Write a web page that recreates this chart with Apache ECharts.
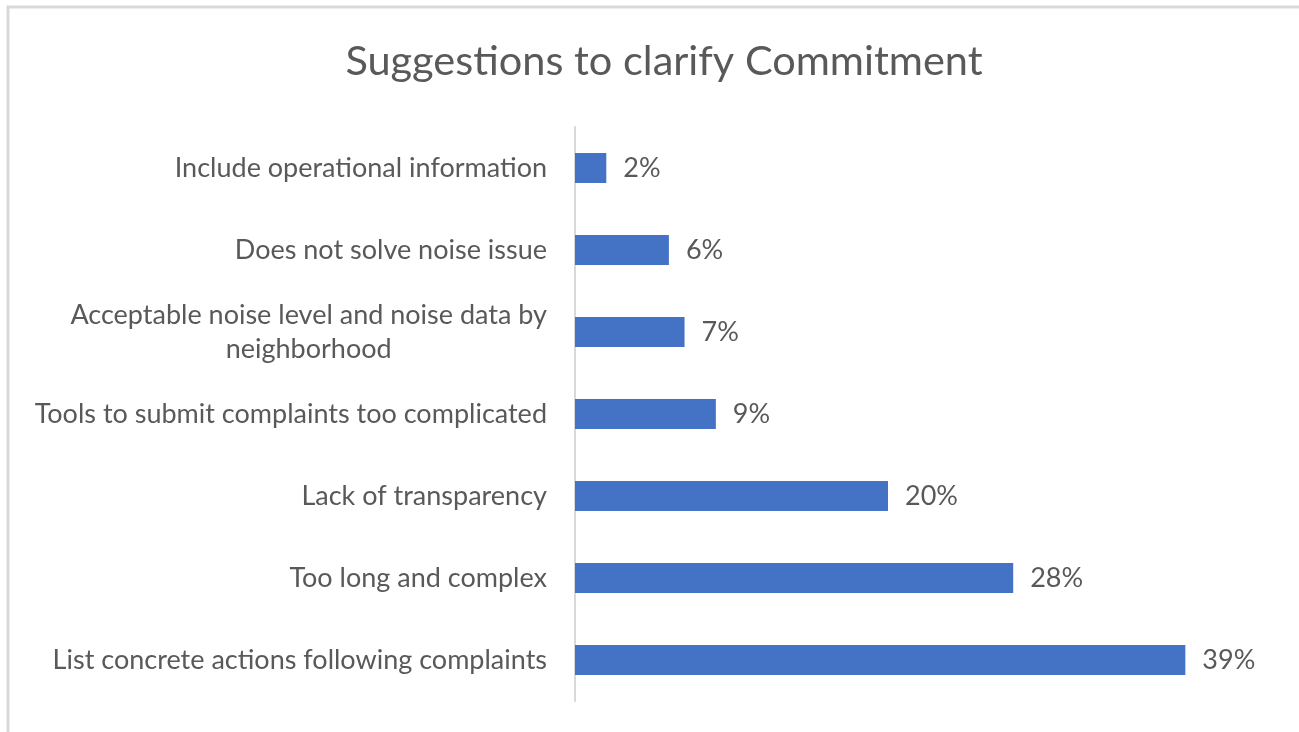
<!DOCTYPE html>
<html>
<head>
<meta charset="utf-8">
<title>Suggestions to clarify Commitment</title>
<script src="https://cdn.jsdelivr.net/npm/echarts@6/dist/echarts.min.js"></script>
<style>
    html, body { margin: 0; padding: 0; background: #fff; }
    #chart { width: 1299px; height: 732px; }
</style>
</head>
<body>
<div id="chart"></div>
<script>
    // categories from bottom to top (ECharts category axis starts at the bottom)
    let categories = [
        'List concrete actions following complaints',
        'Too long and complex',
        'Lack of transparency',
        'Tools to submit complaints too complicated',
        'Acceptable noise level and noise data by\nneighborhood',
        'Does not solve noise issue',
        'Include operational information'
    ]
    let values = [39, 28, 20, 9, 7, 6, 2]

    let textColor = '#595959'
    let font = 'Lato, "Open Sans", sans-serif'

    let chart = echarts.init(document.getElementById('chart'))
    const option = {
        backgroundColor: '#fff',
        animation: false,
        title: {
            text: 'Suggestions to clarify Commitment',
            left: 659,
            textAlign: 'center',
            top: 36,
            textStyle: {
                color: textColor,
                fontFamily: font,
                fontSize: 41.5,
                fontWeight: 'normal'
            }
        },
        graphic: [
            {
                type: 'rect',
                shape: { x: 8, y: 7, width: 1400, height: 900 },
                style: { fill: 'none', stroke: '#d9d9d9', lineWidth: 3 },
                silent: true
            }
        ],
        grid: {
            left: 575,
            right: 98,
            top: 127,
            bottom: 31,
            containLabel: false
        },
        xAxis: {
            type: 'value',
            min: 0,
            max: 40,
            show: false
        },
        yAxis: {
            type: 'category',
            data: categories,
            axisTick: { show: false },
            axisLine: {
                show: true,
                lineStyle: { color: '#d9d9d9', width: 2 }
            },
            axisLabel: {
                margin: 28,
                color: textColor,
                fontFamily: font,
                fontSize: 27,
                lineHeight: 34,
                formatter: function (v) {
                    return v.split('\n').map(function (s) { return '{c|' + s + '}' }).join('\n')
                },
                rich: {
                    c: {
                        align: 'center',
                        color: textColor,
                        fontFamily: font,
                        fontSize: 27,
                        lineHeight: 34
                    }
                }
            }
        },
        series: [
            {
                name: 'Share',
                type: 'bar',
                data: values,
                barWidth: 30,
                itemStyle: { color: '#4472c4' },
                label: {
                    show: true,
                    position: 'right',
                    distance: 17,
                    formatter: '{c}%',
                    color: textColor,
                    fontFamily: font,
                    fontSize: 27
                }
            }
        ]
    }
    chart.setOption(option)
</script>
</body>
</html>
